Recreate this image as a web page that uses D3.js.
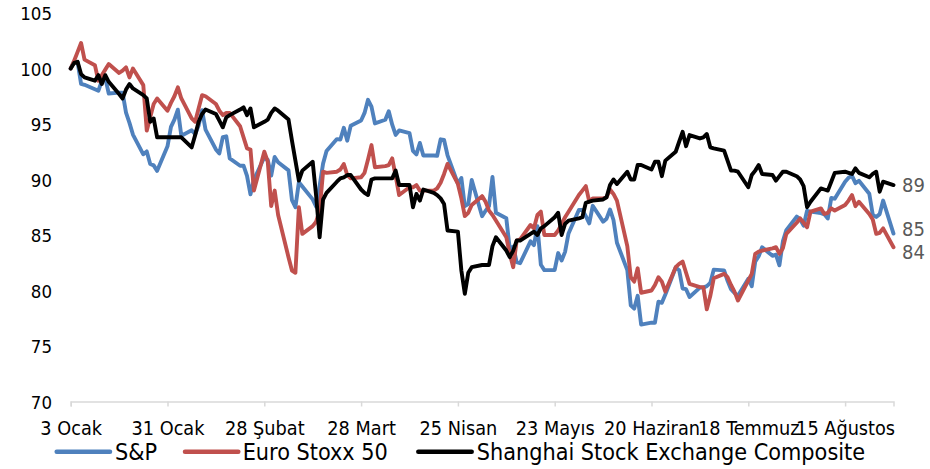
<!DOCTYPE html>
<html><head><meta charset="utf-8">
<script src="https://cdn.jsdelivr.net/npm/d3@7"></script>
<style>
html,body{margin:0;padding:0;background:#fff;}
svg{display:block;}
text{font-family:"DejaVu Sans Condensed","DejaVu Sans",sans-serif;}
</style></head>
<body>
<svg id="chart" width="930" height="469"></svg>
<script>
// ---- data ----
const dates = [
"1/3","1/4","1/5","1/6","1/7","1/10","1/11","1/12","1/13","1/14",
"1/17","1/18","1/19","1/20","1/21","1/24","1/25","1/26","1/27","1/28",
"1/31","2/1","2/2","2/3","2/4","2/7","2/8","2/9","2/10","2/11",
"2/14","2/15","2/16","2/17","2/18","2/21","2/22","2/23","2/24","2/25",
"2/28","3/1","3/2","3/3","3/4","3/7","3/8","3/9","3/10","3/11",
"3/14","3/15","3/16","3/17","3/18","3/21","3/22","3/23","3/24","3/25",
"3/28","3/29","3/30","3/31","4/1","4/4","4/5","4/6","4/7","4/8",
"4/11","4/12","4/13","4/14","4/15","4/18","4/19","4/20","4/21","4/22",
"4/25","4/26","4/27","4/28","4/29","5/2","5/3","5/4","5/5","5/6",
"5/9","5/10","5/11","5/12","5/13","5/16","5/17","5/18","5/19","5/20",
"5/23","5/24","5/25","5/26","5/27","5/30","5/31","6/1","6/2","6/3",
"6/6","6/7","6/8","6/9","6/10","6/13","6/14","6/15","6/16","6/17",
"6/20","6/21","6/22","6/23","6/24","6/27","6/28","6/29","6/30","7/1",
"7/4","7/5","7/6","7/7","7/8","7/11","7/12","7/13","7/14","7/15",
"7/18","7/19","7/20","7/21","7/22","7/25","7/26","7/27","7/28","7/29",
"8/1","8/2","8/3","8/4","8/5","8/8","8/9","8/10","8/11","8/12",
"8/15","8/16","8/17","8/18","8/19","8/22","8/23","8/24","8/25","8/26",
"8/29"];

const spValues = [
100,100.64,100.57,98.62,98.53, 98.13,97.99,98.89,99.16,97.75,
97.83,97.83,96.03,95.10,94.05, 92.27,92.53,91.40,91.27,90.78,
92.99,94.74,95.39,96.29,93.94, 94.43,94.08,94.87,96.24,94.50,
92.71,92.35,93.81,93.89,91.90, 91.24,91.24,90.32,88.66,89.98,
92.00,91.77,90.35,92.03,91.55, 90.82,88.14,87.51,89.76,89.37,
88.21,87.56,89.43,91.43,92.56, 93.64,93.60,94.66,93.50,94.84,
95.32,96.00,97.18,96.56,95.05, 95.38,96.15,94.94,94.02,94.42,
94.17,92.58,92.26,93.29,92.16, 92.16,92.14,93.62,93.56,92.18,
89.63,90.14,87.60,87.78,89.96, 86.69,87.18,87.61,90.22,87.01,
86.51,83.74,83.95,82.56,82.46, 84.43,84.09,85.79,82.32,81.84,
81.85,83.37,82.70,83.48,85.14, 87.25,87.25,86.70,86.05,87.63,
86.20,86.47,87.30,86.35,84.30, 81.84,78.67,78.37,79.52,76.93,
77.10,77.10,78.99,78.89,79.64, 82.07,81.83,80.18,80.12,79.42,
80.26,80.26,80.39,80.67,81.88, 81.81,80.87,80.12,79.77,79.53,
81.05,80.38,82.60,83.08,83.90, 83.12,83.23,82.27,84.42,85.44,
86.66,86.41,85.84,87.18,87.11, 86.97,86.86,86.49,88.33,88.27,
89.80,90.16,90.33,89.67,89.88, 88.72,86.82,86.63,86.88,88.10,
85.13];

const euroValues = [
100.0,100.7,101.5,102.3,100.8, 100.3,98.9,99.4,99.9,100.4,
99.6,99.8,100.1,99.2,100.0, 98.5,94.4,95.6,96.8,97.3,
96.2,96.9,97.5,98.3,97.3, 95.5,95.2,96.4,97.6,97.5,
96.8,96.2,95.8,96.0,96.0, 94.8,93.8,92.8,92.7,89.0,
92.5,91.6,87.6,89.0,86.8, 83.0,81.8,81.6,87.5,85.1,
85.8,86.2,87.2,90.7,90.6, 90.7,90.9,91.4,90.4,90.1,
90.2,90.6,91.8,93.1,91.1, 91.2,91.3,91.9,90.3,88.6,
89.3,89.3,89.5,89.0,89.0, 89.0,89.2,89.7,90.5,91.4,
89.6,88.3,86.7,87.0,87.7, 88.5,88.0,87.2,86.8,86.3,
84.8,83.3,82.1,84.5,84.6, 85.9,85.6,86.8,87.1,85.0,
85.0,85.4,86.0,86.6,87.1, 88.6,89.0,89.4,88.0,88.3,
88.3,88.4,89.1,88.7,88.1, 84.0,81.2,80.8,82.0,79.8,
80.0,80.5,81.2,80.8,79.9, 82.1,82.4,82.6,81.6,80.6,
80.3,80.3,78.3,79.5,81.1, 81.5,81.2,80.5,79.9,79.1,
80.9,81.5,83.3,83.5,83.6, 83.8,83.9,83.3,83.8,85.1,
86.1,86.5,86.1,85.7,87.1, 87.4,86.9,87.0,87.4,87.2,
87.7,88.1,88.6,87.6,88.0, 86.9,86.4,85.1,85.2,85.6,
83.9];

const shanghaiValues = [
100.0,100.5,100.6,99.5,99.2, 98.9,99.4,98.6,99.4,98.8,
97.7,97.3,98.1,98.6,98.2, 97.6,97.3,95.2,95.5,93.8,
93.8,93.8,93.8,93.8,93.8, 92.9,94.0,95.2,95.9,96.3,
95.9,95.3,94.7,95.6,95.8, 96.3,96.5,95.8,96.4,94.7,
95.2,95.4,96.0,96.4,96.2, 95.4,93.5,91.7,89.9,90.8,
91.6,88.5,84.8,88.2,88.8, 89.8,90.1,90.2,90.4,90.4,
89.1,88.8,88.6,90.0,90.1, 90.1,90.1,90.1,90.8,89.5,
89.5,87.5,88.7,88.1,89.1, 88.8,88.6,88.3,87.8,85.4,
85.3,81.8,79.7,81.6,82.1, 82.3,82.3,82.3,84.0,84.8,
83.6,83.0,83.6,84.5,84.5, 85.1,85.3,85.0,85.6,85.8,
86.6,87.0,85.0,86.0,86.3, 86.5,86.6,87.9,88.0,88.1,
88.2,88.4,89.5,90.0,89.6, 90.7,90.0,90.0,91.3,91.3,
90.9,91.6,91.6,90.3,91.7, 92.5,93.4,94.3,93.0,94.0,
93.7,93.8,94.1,92.9,92.8, 92.6,91.7,90.8,90.8,90.7,
89.3,90.4,90.8,91.3,90.5, 90.4,89.9,90.3,90.7,90.7,
90.3,90.0,89.4,87.5,88.0, 89.2,89.1,89.0,89.8,90.6,
90.7,90.6,90.5,91.0,90.6, 90.2,90.5,90.7,88.9,89.8,
89.5];

const seriesNames = ["S&P", "Euro Stoxx 50", "Shanghai Stock Exchange Composite"];
const seriesColors = ["#4F81BD", "#C0504D", "#000000"];
const endLabels = ["85", "84", "89"];
const xTickDates = ["1/3","1/31","2/28","3/28","4/25","5/23","6/20","7/18","8/15"];
const xTickLabels = ["3 Ocak","31 Ocak","28 Şubat","28 Mart","25 Nisan","23 Mayıs","20 Haziran","18 Temmuz","15 Ağustos"];
const yTicks = [70, 75, 80, 85, 90, 95, 100, 105];

// ---- drawing ----
const parse = s => d3.timeParse("%Y/%m/%d")("2022/" + s);
const X = dates.map(parse);
const series = [spValues, euroValues, shanghaiValues];

const svg = d3.select("#chart");
svg.append("rect").attr("width", 930).attr("height", 469).attr("fill", "#fff");

const x = d3.scaleTime().domain([X[0], X[X.length - 1]]).range([70.7, 893.5]);
const y = d3.scaleLinear().domain([70, 105]).range([401.5, 13]);

// y axis labels
const yAxis = svg.append("g").attr("transform", "translate(52,0)")
  .call(d3.axisLeft(y).tickValues(yTicks).tickSize(0).tickPadding(0).tickFormat(d3.format("d")));
yAxis.select(".domain").remove();
yAxis.selectAll("text").attr("font-size", 18.5).attr("fill", "#000")
  .attr("font-family", '"DejaVu Sans Condensed","DejaVu Sans",sans-serif')
  .attr("dy", "0.36em").attr("x", 0);

// x axis
const xAxis = svg.append("g").attr("transform", "translate(0," + y(70) + ")")
  .call(d3.axisBottom(x).tickValues(xTickDates.map(parse)).tickSize(5)
    .tickFormat((d, i) => xTickLabels[i]));
xAxis.select(".domain").attr("stroke", "#d9d9d9").attr("stroke-width", 1.5);
xAxis.selectAll(".tick line").attr("stroke", "#d9d9d9").attr("stroke-width", 1.5);
xAxis.selectAll("text").attr("font-size", 19.7).attr("fill", "#000")
  .attr("font-family", '"DejaVu Sans Condensed","DejaVu Sans",sans-serif')
  .attr("y", 33).attr("dy", 0);

// lines
const line = d3.line().x((d, i) => x(X[i])).y(d => y(d)).curve(d3.curveLinear);
series.forEach((vals, k) => {
  svg.append("path").datum(vals)
    .attr("d", line)
    .attr("fill", "none")
    .attr("stroke", seriesColors[k])
    .attr("stroke-width", 3.9)
    .attr("stroke-linejoin", "round")
    .attr("stroke-linecap", "round");
});

// end labels, pushed apart symmetrically when too close
const labelSize = 20;
const minGap = 23.5;
const ends = series.map((vals, k) => ({k, y: y(vals[vals.length - 1])}));
ends.sort((a, b) => a.y - b.y);
for (let iter = 0; iter < 20; iter++) {
  for (let i = 1; i < ends.length; i++) {
    const d = ends[i].y - ends[i - 1].y;
    if (d < minGap) {
      const s = (minGap - d) / 2;
      ends[i - 1].y -= s;
      ends[i].y += s;
    }
  }
}
ends.forEach(e => {
  svg.append("text")
    .attr("x", x(X[X.length - 1]) + 8.5)
    .attr("y", e.y)
    .attr("dy", "0.36em")
    .attr("font-size", labelSize)
    .attr("fill", "#595959")
    .text(endLabels[e.k]);
});

// legend
const legendY = 451.7;
const legendItems = [
  {x1: 56.7, x2: 110, tx: 115},
  {x1: 185, x2: 238.3, tx: 242.7},
  {x1: 418.3, x2: 471.7, tx: 476.7}
];
legendItems.forEach((it, k) => {
  svg.append("line").attr("x1", it.x1).attr("x2", it.x2)
    .attr("y1", legendY).attr("y2", legendY)
    .attr("stroke", seriesColors[k]).attr("stroke-width", 4.5).attr("stroke-linecap", "round");
  svg.append("text").attr("x", it.tx).attr("y", legendY).attr("dy", "0.36em")
    .attr("font-size", 23.2).attr("fill", "#000").text(seriesNames[k]);
});
</script>
</body></html>
